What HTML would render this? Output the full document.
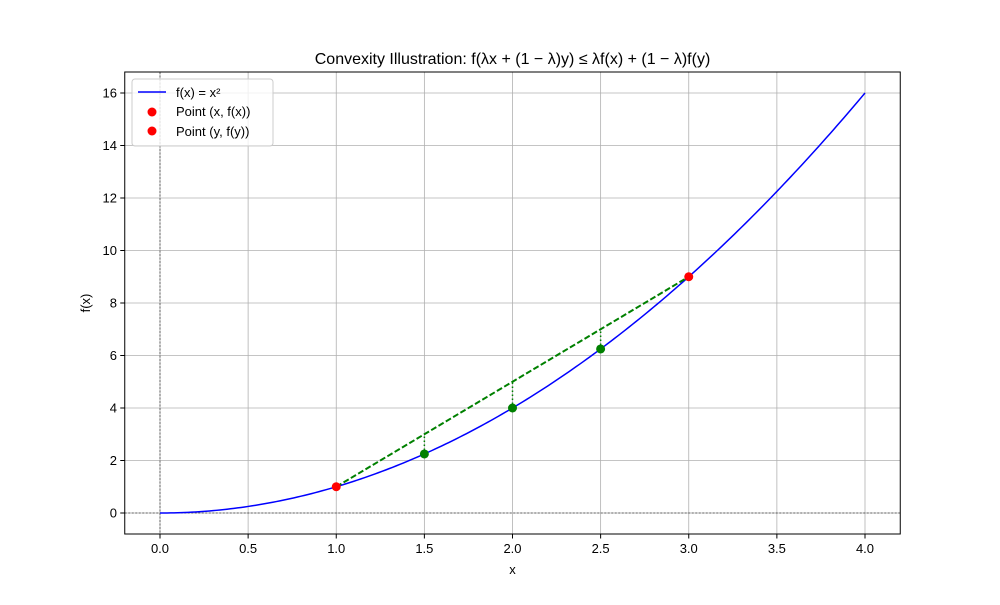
<!DOCTYPE html>
<html><head><meta charset="utf-8"><style>
body{margin:0;background:#fff;}
svg text{font-family:"Liberation Sans","DejaVu Sans",sans-serif;}
</style></head><body>
<svg id="chart" width="1000" height="600" xmlns="http://www.w3.org/2000/svg">
<rect width="1000" height="600" fill="#fff"/>
<g id="grid"></g>
<g id="plot"></g>
<rect x="124.75" y="72" width="775.5" height="462" fill="none" stroke="#000" stroke-width="1"/>
<g id="ticks"></g>
<text x="512.5" y="64" text-anchor="middle" font-size="16">Convexity Illustration: f(λx + (1 − λ)y) ≤ λf(x) + (1 − λ)f(y)</text>
<text x="512.5" y="574" text-anchor="middle" font-size="13">x</text>
<text transform="translate(90,303) rotate(-90)" text-anchor="middle" font-size="13">f(x)</text>
<g>
<rect x="132" y="79" width="141" height="67" rx="3" fill="#fff" fill-opacity="0.8" stroke="#ccc"/>
<g><line x1="138" y1="92" x2="166" y2="92" stroke="blue" stroke-width="1.5"/><text x="176" y="97" font-size="13">f(x) = x²</text></g>
<g><circle cx="152" cy="112" r="4.5" fill="red"/><text x="176" y="116" font-size="13">Point (x, f(x))</text></g>
<g><circle cx="152" cy="131" r="4.5" fill="red"/><text x="176" y="136" font-size="13">Point (y, f(y))</text></g>
</g>
</svg>
<script>
const xTicks=[0,0.5,1,1.5,2,2.5,3,3.5,4];
const xTickLabels=["0.0","0.5","1.0","1.5","2.0","2.5","3.0","3.5","4.0"];
const yTicks=[0,2,4,6,8,10,12,14,16];
const endpoints=[1,3];
const lambdaXs=[1.5,2,2.5];
const curveMax=4;
const X=v=>160+v*176.25, Y=v=>513-v*26.25;
const NS="http://www.w3.org/2000/svg";
function mk(p,t,a){const e=document.createElementNS(NS,t);for(const k in a)e.setAttribute(k,a[k]);p.appendChild(e);return e;}
const grid=document.getElementById('grid'),plot=document.getElementById('plot'),ticks=document.getElementById('ticks');
xTicks.forEach((v,i)=>{
 const g=mk(grid,'line',{x1:X(v),x2:X(v),y1:72,y2:534,stroke:'#b0b0b0','stroke-width':0.8});
 
 
 mk(ticks,'line',{x1:X(v),x2:X(v),y1:534,y2:538.5,stroke:'#000'});
 const t=mk(ticks,'text',{x:X(v),y:553,'text-anchor':'middle','font-size':13});t.textContent=xTickLabels[i];
 
 
});
yTicks.forEach(v=>{
 const g=mk(grid,'line',{x1:124.75,x2:900.25,y1:Y(v),y2:Y(v),stroke:'#b0b0b0','stroke-width':0.8});
 
 
 mk(ticks,'line',{x1:120.25,x2:124.75,y1:Y(v),y2:Y(v),stroke:'#000'});
 const t=mk(ticks,'text',{x:117,y:Y(v)+4.5,'text-anchor':'end','font-size':13});t.textContent=v;
 
 
});
mk(plot,'line',{x1:124.75,x2:900.25,y1:Y(0),y2:Y(0),stroke:'#000','stroke-width':0.5,'stroke-dasharray':'2,1.5'});
mk(plot,'line',{x1:X(0),x2:X(0),y1:72,y2:534,stroke:'#000','stroke-width':0.5,'stroke-dasharray':'2,1.5'});
let d='';for(let i=0;i<=200;i++){const x=curveMax*i/200;d+=(i?'L':'M')+X(x)+','+Y(x*x);}
const c=mk(plot,'path',{d:d,fill:'none',stroke:'blue','stroke-width':1.5});


const [a,b]=endpoints;
const ch=mk(plot,'line',{x1:X(a),y1:Y(a*a),x2:X(b),y2:Y(b*b),stroke:'green','stroke-width':2,'stroke-dasharray':'6,2.5'});


lambdaXs.forEach(x=>{
 const lam=(b-x)/(b-a), cy=lam*a*a+(1-lam)*b*b;
 const v=mk(plot,'line',{x1:X(x),x2:X(x),y1:Y(x*x),y2:Y(cy),stroke:'green','stroke-width':1.5,'stroke-dasharray':'1.5,2.5'});
 
 
 const p=mk(plot,'circle',{cx:X(x),cy:Y(x*x),r:4.5,fill:'green'});
 
 
});
endpoints.forEach(x=>{
 const p=mk(plot,'circle',{cx:X(x),cy:Y(x*x),r:4.5,fill:'red'});
 
 
});
</script>
</body></html>
